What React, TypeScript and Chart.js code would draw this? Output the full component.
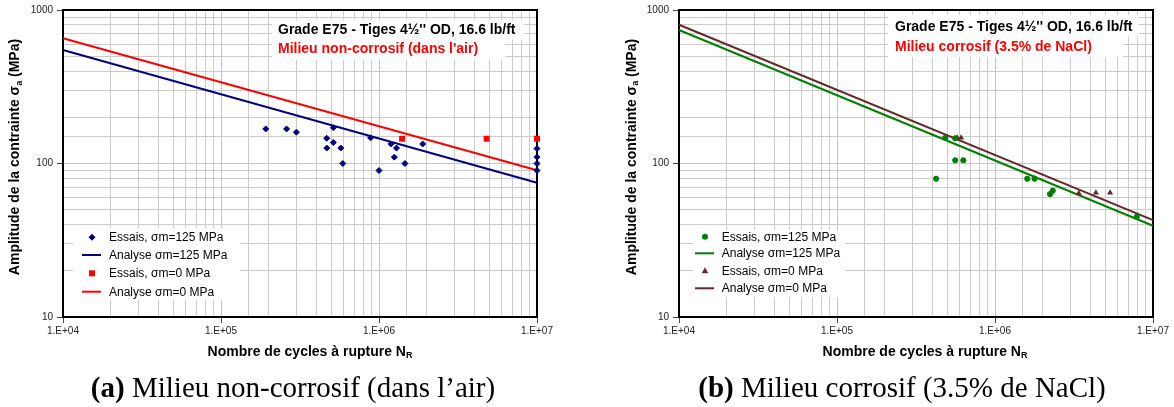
import React, { useEffect, useRef } from 'react';
import { Chart, registerables } from 'chart.js';

Chart.register(...registerables);

const SANS = "'Liberation Sans', Arial, sans-serif";
const SERIF = "'Liberation Serif', 'Times New Roman', serif";
const CAPTION_SIZE = 29;

// ---- Axes ----
const xMajorValues = [1e4, 1e5, 1e6, 1e7];
const xMajorLabels = ['1.E+04', '1.E+05', '1.E+06', '1.E+07'];
const yMajorValues = [10, 100, 1000];
const yMajorLabels = ['10', '100', '1000'];

// ---- Shared texts ----
const xTitleMain = 'Nombre de cycles à rupture N';
const xTitleSub = 'R';
const yTitleMain = 'Amplitude de la contrainte σ';
const yTitleSub = 'a';
const yTitleEnd = ' (MPa)';
const boxTitle = "Grade E75 - Tiges 4½'' OD, 16.6 lb/ft";
const legendLabels = ['Essais, σm=125 MPa', 'Analyse σm=125 MPa', 'Essais, σm=0 MPa', 'Analyse σm=0 MPa'];

// ---- (a) Milieu non-corrosif ----
const airSubtitle = "Milieu non-corrosif (dans l'air)";
const airCaptionTag = '(a)';
const airCaptionText = ' Milieu non-corrosif (dans l’air)';
const airEssais125N = [1.92e5, 2.6e5, 3.0e5, 4.67e5, 4.67e5, 5.14e5, 5.14e5, 5.73e5, 5.9e5, 8.85e5, 1.0e6, 1.19e6, 1.29e6, 1.25e6, 1.46e6, 1.89e6, 1e7, 1e7, 1e7, 1e7];
const airEssais125S = [168, 168, 160, 146, 126, 171, 137, 126, 100, 147, 90, 134, 126, 110, 100, 134, 125, 110, 100, 90];
const airEssais0N = [1.4e6, 4.8e6, 1e7];
const airEssais0S = [145, 145, 145];
const airAnalyseN = [1e4, 1e7];
const airAnalyse125S = [549, 75];
const airAnalyse0S = [654, 90.4];

// ---- (b) Milieu corrosif ----
const naclSubtitle = 'Milieu corrosif (3.5% de NaCl)';
const naclCaptionTag = '(b)';
const naclCaptionText = ' Milieu corrosif (3.5% de NaCl)';
const naclEssais125N = [4.24e5, 4.85e5, 5.6e5, 5.6e5, 6.3e5, 1.6e6, 1.78e6, 2.23e6, 2.32e6, 7.9e6];
const naclEssais125S = [79.6, 147, 146, 105, 105, 79.6, 79.6, 63.2, 66.5, 45];
const naclEssais0N = [5.77e5, 6.1e5, 3.39e6, 4.35e6, 5.35e6];
const naclEssais0S = [147, 147, 64, 64.5, 64.5];
const naclAnalyseN = [1e4, 1e7];
const naclAnalyse125S = [741, 39.3];
const naclAnalyse0S = [802, 42.8];

const NAVY = '#000080';
const RED = '#ff0000';
const GREEN = '#008000';
const BROWN = '#66282a';

const pts = (xs: number[], ys: number[]) => xs.map((x, i) => ({ x, y: ys[i] }));
const majorIndex = (v: number, list: number[]) => list.findIndex((m) => Math.abs(v / m - 1) < 1e-6);

type Part = { t: string; font: string; dy: number };

function drawRich(ctx: CanvasRenderingContext2D, parts: Part[], cx: number, cy: number) {
  let total = 0;
  const widths = parts.map((p) => {
    ctx.font = p.font;
    const w = ctx.measureText(p.t).width;
    total += w;
    return w;
  });
  let x = cx - total / 2;
  ctx.textAlign = 'left';
  ctx.textBaseline = 'middle';
  parts.forEach((p, i) => {
    ctx.font = p.font;
    ctx.fillText(p.t, x, cy + p.dy);
    x += widths[i];
  });
}

function drawMarker(ctx: CanvasRenderingContext2D, style: string, x: number, y: number, color: string) {
  ctx.fillStyle = color;
  ctx.beginPath();
  if (style === 'diamond') {
    const r = 3.5;
    ctx.moveTo(x - r, y); ctx.lineTo(x, y - r); ctx.lineTo(x + r, y); ctx.lineTo(x, y + r);
  } else if (style === 'square') {
    ctx.rect(x - 3, y - 3, 6, 6);
  } else if (style === 'circle') {
    ctx.arc(x, y, 3, 0, Math.PI * 2);
  } else if (style === 'triangle') {
    ctx.moveTo(x, y - 3.5); ctx.lineTo(x + 3.3, y + 2.5); ctx.lineTo(x - 3.3, y + 2.5);
  }
  ctx.closePath();
  ctx.fill();
}

type Spec = {
  yAxisWidth: number;
  rightPad: number;
  titleX: number;
  titleRectX: number;
  titleLines: { text: string; color: string; y: number; top: number; bottom: number; padR: number }[];
  legend: { x: number; y: number; w: number; h: number; rows: number[]; markerX: number; lineX: [number, number]; textX: number };
  legendItems: { kind: string; style: string; color: string }[];
  xTitleX: number;
  xTitleY: number;
  yTitleX: number;
  yTitleY: number;
  captionTag: string;
  captionText: string;
  captionX: number;
  captionY: number;
  datasets: any[];
};

function makeDeco(spec: Spec) {
  return {
    id: 'deco',
    beforeDatasetsDraw(chart: any) {
      const { ctx, chartArea: a } = chart;
      ctx.save();
      ctx.strokeStyle = '#000';
      ctx.lineWidth = 2;
      ctx.strokeRect(a.left, a.top, a.right - a.left, a.bottom - a.top);
      ctx.restore();
    },
    afterDatasetsDraw(chart: any) {
      const ctx: CanvasRenderingContext2D = chart.ctx;
      ctx.save();
      ctx.font = `bold 14px ${SANS}`;
      spec.titleLines.forEach((l) => {
        const w = ctx.measureText(l.text).width;
        ctx.fillStyle = '#ffffff';
        ctx.fillRect(spec.titleRectX, l.top, spec.titleX - spec.titleRectX + w + l.padR, l.bottom - l.top);
      });
      ctx.textAlign = 'left';
      ctx.textBaseline = 'middle';
      spec.titleLines.forEach((l) => {
        ctx.fillStyle = l.color;
        ctx.fillText(l.text, spec.titleX, l.y);
      });
      const lg = spec.legend;
      ctx.fillStyle = '#ffffff';
      ctx.fillRect(lg.x, lg.y, lg.w, lg.h);
      spec.legendItems.forEach((it, i) => {
        const y = lg.rows[i];
        if (it.kind === 'line') {
          ctx.strokeStyle = it.color;
          ctx.lineWidth = 2;
          ctx.beginPath();
          ctx.moveTo(lg.lineX[0], y);
          ctx.lineTo(lg.lineX[1], y);
          ctx.stroke();
        } else {
          drawMarker(ctx, it.style, lg.markerX, y, it.color);
        }
        ctx.fillStyle = '#000';
        ctx.font = `12px ${SANS}`;
        ctx.textAlign = 'left';
        ctx.textBaseline = 'middle';
        ctx.fillText(legendLabels[i], lg.textX, y + 0.5);
      });
      ctx.restore();
    },
    afterDraw(chart: any) {
      const ctx: CanvasRenderingContext2D = chart.ctx;
      ctx.save();
      ctx.fillStyle = '#000';
      drawRich(
        ctx,
        [
          { t: xTitleMain, font: `bold 14px ${SANS}`, dy: 0 },
          { t: xTitleSub, font: `bold 9px ${SANS}`, dy: 4 },
        ],
        spec.xTitleX,
        spec.xTitleY
      );
      ctx.save();
      ctx.translate(spec.yTitleX, spec.yTitleY);
      ctx.rotate(-Math.PI / 2);
      drawRich(
        ctx,
        [
          { t: yTitleMain, font: `bold 14px ${SANS}`, dy: 0 },
          { t: yTitleSub, font: `bold 9px ${SANS}`, dy: 4 },
          { t: yTitleEnd, font: `bold 14px ${SANS}`, dy: 0 },
        ],
        0,
        0
      );
      ctx.restore();
      const bold = `bold ${CAPTION_SIZE}px ${SERIF}`;
      const reg = `${CAPTION_SIZE}px ${SERIF}`;
      ctx.font = bold;
      const w1 = ctx.measureText(spec.captionTag).width;
      ctx.font = reg;
      const w2 = ctx.measureText(spec.captionText).width;
      const x0 = spec.captionX - (w1 + w2) / 2;
      ctx.textAlign = 'left';
      ctx.textBaseline = 'alphabetic';
      ctx.font = bold;
      ctx.fillText(spec.captionTag, x0, spec.captionY);
      ctx.font = reg;
      ctx.fillText(spec.captionText, x0 + w1, spec.captionY);
      ctx.restore();
    },
  };
}

function buildConfig(spec: Spec): any {
  const gridColor = (list: number[]) => (c: any) =>
    c.tick && majorIndex(c.tick.value, list) >= 0 ? '#b4c8e2' : '#cbcbcb';
  const tickColor = (list: number[]) => (c: any) =>
    c.tick && majorIndex(c.tick.value, list) >= 0 ? '#444' : 'rgba(0,0,0,0)';
  return {
    type: 'scatter',
    data: { datasets: spec.datasets },
    plugins: [makeDeco(spec)],
    options: {
      animation: false,
      responsive: false,
      maintainAspectRatio: false,
      devicePixelRatio: 1,
      layout: { padding: { left: 0, right: spec.rightPad, top: 10, bottom: 0 } },
      plugins: { legend: { display: false }, tooltip: { enabled: false }, title: { display: false } },
      scales: {
        x: {
          type: 'logarithmic',
          min: xMajorValues[0],
          max: xMajorValues[xMajorValues.length - 1],
          afterFit: (s: any) => { s.height = 90; },
          border: { display: false },
          grid: { color: gridColor(xMajorValues), lineWidth: 1, tickLength: 6, tickColor: tickColor(xMajorValues) },
          ticks: {
            autoSkip: false,
            maxRotation: 0,
            padding: 2,
            color: '#222',
            font: { family: SANS, size: 10 },
            callback: (v: any) => {
              const i = majorIndex(Number(v), xMajorValues);
              return i >= 0 ? xMajorLabels[i] : '';
            },
          },
        },
        y: {
          type: 'logarithmic',
          min: yMajorValues[0],
          max: yMajorValues[yMajorValues.length - 1],
          afterFit: (s: any) => { s.width = spec.yAxisWidth; },
          border: { display: false },
          grid: { color: gridColor(yMajorValues), lineWidth: 1, tickLength: 6, tickColor: tickColor(yMajorValues) },
          ticks: {
            autoSkip: false,
            padding: 4,
            color: '#222',
            font: { family: SANS, size: 10 },
            callback: (v: any) => {
              const i = majorIndex(Number(v), yMajorValues);
              return i >= 0 ? yMajorLabels[i] : '';
            },
          },
        },
      },
    },
  };
}

const specA: Spec = {
  yAxisWidth: 63,
  rightPad: 50,
  titleX: 278,
  titleRectX: 272,
  titleLines: [
    { text: boxTitle, color: '#000', y: 30, top: 20, bottom: 39.5, padR: 8 },
    { text: airSubtitle, color: RED, y: 49.5, top: 39.5, bottom: 60, padR: 27 },
  ],
  legend: { x: 73, y: 228, w: 167, h: 72, rows: [237.3, 255, 273.3, 291.7], markerX: 92, lineX: [82, 101], textX: 109 },
  legendItems: [
    { kind: 'point', style: 'diamond', color: NAVY },
    { kind: 'line', style: '', color: NAVY },
    { kind: 'point', style: 'square', color: RED },
    { kind: 'line', style: '', color: RED },
  ],
  xTitleX: 310,
  xTitleY: 352,
  yTitleX: 15.5,
  yTitleY: 157,
  captionTag: airCaptionTag,
  captionText: airCaptionText,
  captionX: 293,
  captionY: 397,
  datasets: [
    { label: legendLabels[0], data: pts(airEssais125N, airEssais125S), showLine: false, pointStyle: 'rectRot', pointRadius: 3, backgroundColor: NAVY, borderColor: NAVY, borderWidth: 1, clip: false },
    { label: legendLabels[2], data: pts(airEssais0N, airEssais0S), showLine: false, pointStyle: 'rect', pointRadius: 4.2, backgroundColor: RED, borderColor: RED, borderWidth: 0, clip: false },
    { label: legendLabels[1], data: pts(airAnalyseN, airAnalyse125S), showLine: true, pointRadius: 0, borderColor: NAVY, borderWidth: 2, clip: false },
    { label: legendLabels[3], data: pts(airAnalyseN, airAnalyse0S), showLine: true, pointRadius: 0, borderColor: RED, borderWidth: 2, clip: false },
  ],
};

const specB: Spec = {
  yAxisWidth: 92,
  rightPad: 21,
  titleX: 308,
  titleRectX: 301,
  titleLines: [
    { text: boxTitle, color: '#000', y: 26.7, top: 15, bottom: 36.5, padR: 6 },
    { text: naclSubtitle, color: RED, y: 46.7, top: 36.5, bottom: 57, padR: 31 },
  ],
  legend: { x: 106, y: 230, w: 152, h: 67, rows: [236.7, 253.3, 270.7, 288.3], markerX: 118, lineX: [108, 127], textX: 134.7 },
  legendItems: [
    { kind: 'point', style: 'circle', color: GREEN },
    { kind: 'line', style: '', color: GREEN },
    { kind: 'point', style: 'triangle', color: BROWN },
    { kind: 'line', style: '', color: BROWN },
  ],
  xTitleX: 338,
  xTitleY: 352,
  yTitleX: 45,
  yTitleY: 157,
  captionTag: naclCaptionTag,
  captionText: naclCaptionText,
  captionX: 315,
  captionY: 397,
  datasets: [
    { label: legendLabels[0], data: pts(naclEssais125N, naclEssais125S), showLine: false, pointStyle: 'circle', pointRadius: 2.6, backgroundColor: GREEN, borderColor: GREEN, borderWidth: 1, clip: false },
    { label: legendLabels[2], data: pts(naclEssais0N, naclEssais0S), showLine: false, pointStyle: 'triangle', pointRadius: 3.5, backgroundColor: BROWN, borderColor: BROWN, borderWidth: 0, clip: false },
    { label: legendLabels[1], data: pts(naclAnalyseN, naclAnalyse125S), showLine: true, pointRadius: 0, borderColor: GREEN, borderWidth: 2, clip: false },
    { label: legendLabels[3], data: pts(naclAnalyseN, naclAnalyse0S), showLine: true, pointRadius: 0, borderColor: BROWN, borderWidth: 2, clip: false },
  ],
};

function SNChart({ spec, left }: { spec: Spec; left: number }) {
  const ref = useRef<HTMLCanvasElement | null>(null);
  useEffect(() => {
    if (!ref.current) return;
    const chart = new Chart(ref.current, buildConfig(spec));
    return () => chart.destroy();
  }, [spec]);
  return (
    <canvas
      ref={ref}
      width={587}
      height={407}
      style={{ position: 'absolute', left, top: 0, width: 587, height: 407, display: 'block' }}
    />
  );
}

export default function App() {
  return (
    <div style={{ position: 'absolute', left: 0, top: 0, width: 1174, height: 407, background: '#fff', overflow: 'hidden' }}>
      <SNChart spec={specA} left={0} />
      <SNChart spec={specB} left={587} />
    </div>
  );
}
